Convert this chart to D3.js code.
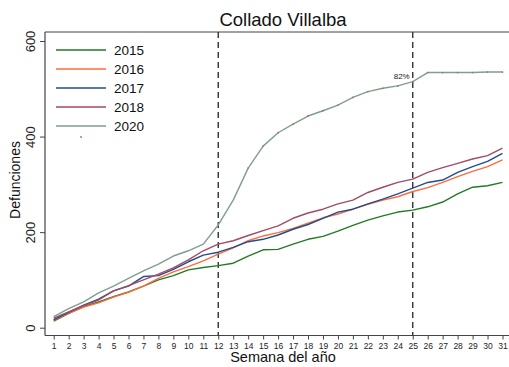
<!DOCTYPE html>
<html>
<head>
<meta charset="utf-8">
<script src="https://cdn.jsdelivr.net/npm/d3@7"></script>
<style>
  body { margin: 0; background: #fff; }
  svg { display: block; font-family: "Liberation Sans", Arial, sans-serif; }
</style>
</head>
<body>
<div id="chart"></div>
<script>
const weeks = d3.range(1, 32);
const years = ['2015', '2016', '2017', '2018', '2020'];
const colors = ['#237a23', '#ff6b3d', '#1f4d8f', '#a34a66', '#7f9e90'];

const s2015 = [14, 30, 44, 54, 65, 75, 87, 100, 109, 121, 126, 130, 135, 150, 163, 164, 175, 185, 191, 202,
  214, 225, 234, 242, 246, 253, 263, 280, 294, 297, 304];
const s2016 = [16, 30, 43, 52, 64, 74, 87, 103, 117, 128, 140, 154, 167, 182, 192, 199, 208, 219, 230, 238,
  248, 258, 267, 274, 285, 293, 304, 316, 327, 337, 351];
const s2017 = [17, 32, 47, 60, 77, 87, 107, 109, 122, 138, 152, 158, 168, 180, 185, 194, 206, 216, 229, 242,
  248, 259, 269, 280, 292, 304, 309, 325, 337, 348, 365];
const s2018 = [20, 33, 46, 58, 77, 88, 100, 112, 125, 142, 161, 175, 182, 193, 203, 213, 229, 240, 248, 259,
  267, 283, 294, 304, 311, 325, 335, 344, 353, 360, 376];
const s2020 = [23, 40, 54, 73, 87, 103, 119, 133, 150, 161, 175, 215, 267, 334, 380, 408, 426, 443, 454, 466,
  482, 494, 501, 506, 515, 534, 534, 534, 534, 535, 535];
const series = [s2015, s2016, s2017, s2018, s2020];

const yTicks = [0, 200, 400, 600];
const markWeeks = [12, 25];

(function () {
  const W = 509, H = 367;
  const svg = d3.select('#chart').append('svg').attr('width', W).attr('height', H);

  const x = d3.scaleLinear().domain([1, 31]).range([53.7, 502.5]);
  const y = d3.scaleLinear().domain([0, 600]).range([327.7, 41]);

  const left = 45, plotTop = 32, bottom = 335.5;

  // frame
  svg.append('line').attr('x1', left).attr('x2', W).attr('y1', plotTop).attr('y2', plotTop)
    .attr('stroke', '#444').attr('stroke-width', 1);
  svg.append('line').attr('x1', left).attr('x2', left).attr('y1', plotTop).attr('y2', bottom)
    .attr('stroke', '#444').attr('stroke-width', 1.2);
  svg.append('line').attr('x1', left).attr('x2', W).attr('y1', bottom).attr('y2', bottom)
    .attr('stroke', '#444').attr('stroke-width', 1.2);

  // x axis
  const gx = svg.append('g').attr('transform', `translate(0,${bottom})`)
    .call(d3.axisBottom(x).tickValues(weeks).tickSize(4).tickPadding(3).tickFormat(d3.format('d')));
  gx.select('.domain').remove();
  gx.selectAll('.tick line').attr('stroke', '#444');
  gx.selectAll('.tick text').attr('font-size', 8.5).attr('fill', '#222')
    .attr('font-family', '"Liberation Sans", Arial, sans-serif');

  // y axis
  const gy = svg.append('g').attr('transform', `translate(${left},0)`)
    .call(d3.axisLeft(y).tickValues(yTicks).tickSize(5).tickFormat(d3.format('d')));
  gy.select('.domain').remove();
  gy.selectAll('.tick line').attr('stroke', '#444');
  gy.selectAll('.tick text')
    .attr('font-size', 13).attr('fill', '#222')
    .attr('font-family', '"Liberation Sans", Arial, sans-serif')
    .attr('text-anchor', 'middle')
    .attr('x', 0).attr('dy', null)
    .attr('transform', 'translate(-10,0) rotate(-90)');

  // titles
  svg.append('text').attr('x', 283).attr('y', 26).attr('text-anchor', 'middle')
    .attr('font-size', 18.5).attr('fill', '#111').text('Collado Villalba');
  svg.append('text').attr('x', 283).attr('y', 362).attr('text-anchor', 'middle')
    .attr('font-size', 14.5).attr('fill', '#111').text('Semana del año');
  svg.append('text').attr('transform', 'translate(20,180) rotate(-90)').attr('text-anchor', 'middle')
    .attr('font-size', 14).attr('fill', '#111').text('Defunciones');

  // dashed week markers
  svg.selectAll('line.mark').data(markWeeks).join('line')
    .attr('class', 'mark')
    .attr('x1', d => x(d)).attr('x2', d => x(d))
    .attr('y1', plotTop).attr('y2', bottom)
    .attr('stroke', '#333').attr('stroke-width', 1.4).attr('stroke-dasharray', '6,4');

  // series lines
  const line = d3.line().x((d, i) => x(weeks[i])).y(d => y(d));
  svg.selectAll('path.series').data(series).join('path')
    .attr('class', 'series')
    .attr('d', line)
    .attr('fill', 'none')
    .attr('stroke', (d, i) => colors[i])
    .attr('stroke-width', 1.4)
    .attr('stroke-linejoin', 'round');

  // small point markers on 2020
  svg.selectAll('circle.pt').data(s2020.slice(13)).join('circle')
    .attr('class', 'pt')
    .attr('cx', (d, i) => x(weeks[i + 13])).attr('cy', d => y(d))
    .attr('r', 0.9).attr('fill', '#b8704e');

  // 82% label
  svg.append('text').attr('x', x(25) - 3).attr('y', 79).attr('text-anchor', 'end')
    .attr('font-size', 8).attr('fill', '#222').text('82%');

  // legend
  const lg = svg.append('g').attr('transform', 'translate(56,50)');
  const items = lg.selectAll('g').data(years).join('g')
    .attr('transform', (d, i) => `translate(0,${i * 19})`);
  items.append('line').attr('x1', 0).attr('x2', 50).attr('y1', 0).attr('y2', 0)
    .attr('stroke', (d, i) => colors[i]).attr('stroke-width', 1.6);
  items.append('text').attr('x', 58).attr('y', 5).attr('font-size', 13.5).attr('fill', '#111').text(d => d);
  lg.append('circle').attr('cx', 25).attr('cy', 87).attr('r', 0.9).attr('fill', '#b8704e');
})();
</script>
</body>
</html>
